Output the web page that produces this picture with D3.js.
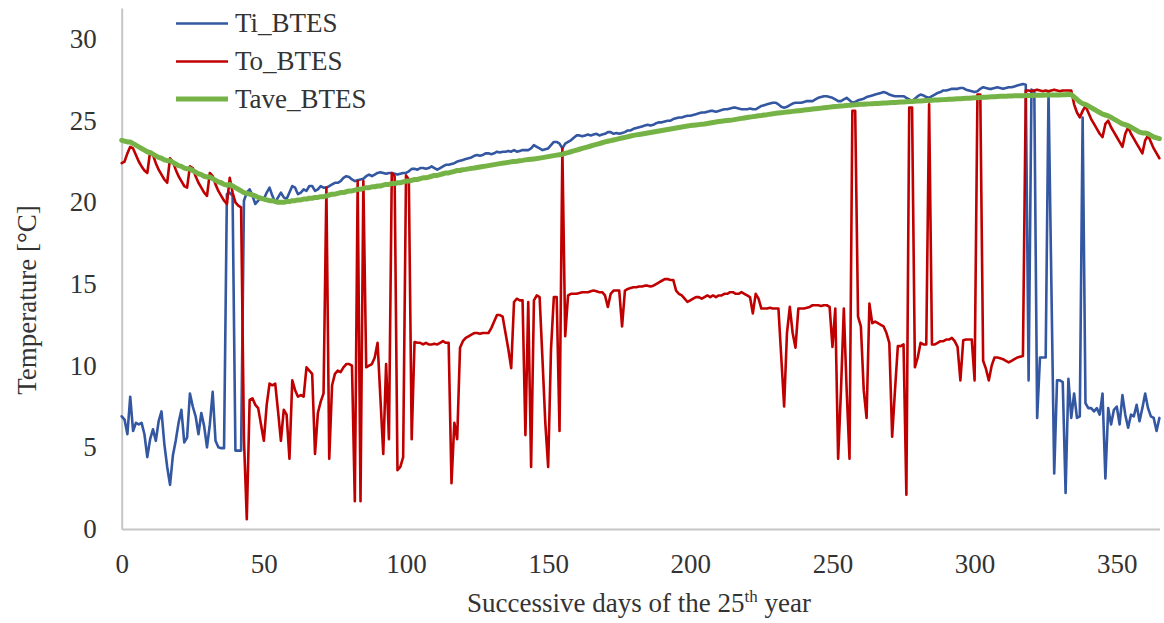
<!DOCTYPE html>
<html>
<head>
<meta charset="utf-8">
<script src="https://cdn.jsdelivr.net/npm/d3@7"></script>
<style>
  html, body { margin: 0; padding: 0; background: #fff; }
</style>
</head>
<body>
<div id="chart"></div>
<script>
// series names, ticks and daily values (day 0..365)
const seriesNames = ["Ti_BTES", "To_BTES", "Tave_BTES"];
const seriesColors = ["#3457a2", "#c00000", "#76b347"];
const xTicks = [0, 50, 100, 150, 200, 250, 300, 350];
const yTicks = [0, 5, 10, 15, 20, 25, 30];

const tiValues = [
  6.9, 6.7, 5.8, 8.1, 6.0, 6.5, 6.4, 6.5, 5.8, 4.4,
  5.5, 6.1, 5.4, 6.6, 7.2, 5.2, 3.8, 2.7, 4.5, 5.4,
  6.5, 7.3, 5.3, 5.6, 8.3, 7.5, 6.9, 5.8, 7.1, 6.3,
  5.0, 6.4, 8.4, 5.4, 5.0, 4.95, 4.95, 20.5, 20.6, 20.4,
  4.8, 4.8, 4.8, 20.1, 20.6, 20.8, 20.4, 19.9, 20.1, 20.3,
  20.2, 20.6, 20.9, 20.4, 20.0, 20.3, 20.6, 20.3, 20.2, 20.6,
  21.0, 20.9, 20.5, 20.6, 20.8, 20.7, 21.0, 21.0, 20.7, 20.8,
  21.0, 20.9, 20.9, 21.0, 21.1, 21.2, 21.2, 21.3, 21.5, 21.6,
  21.55, 21.4, 21.3, 21.35, 21.4, 21.45, 21.6, 21.7, 21.6, 21.7,
  21.8, 21.85, 21.8, 21.75, 21.8, 21.8, 21.75, 21.7, 21.75, 21.8,
  21.8, 21.9, 22.05, 22.05, 22.0, 22.1, 22.1, 22.05, 22.1, 22.2,
  22.1, 22.0, 22.1, 22.2, 22.3, 22.3, 22.35, 22.4, 22.5, 22.55,
  22.6, 22.65, 22.7, 22.75, 22.85, 22.9, 22.85, 22.9, 23.0, 23.0,
  22.95, 23.0, 23.1, 23.05, 23.1, 23.1, 23.15, 23.1, 23.2, 23.1,
  23.15, 23.2, 23.2, 23.2, 23.3, 23.5, 23.4, 23.3, 23.2, 23.25,
  23.3, 23.5, 23.7, 23.7, 23.6, 23.3, 23.6, 23.7, 23.8, 23.95,
  24.1, 24.1, 24.05, 24.1, 24.15, 24.1, 24.15, 24.2, 24.1, 24.15,
  24.2, 24.3, 24.3, 24.2, 24.25, 24.2, 24.25, 24.3, 24.4, 24.4,
  24.5, 24.55, 24.6, 24.65, 24.7, 24.75, 24.7, 24.75, 24.85, 24.9,
  24.9, 24.95, 25.0, 25.0, 25.1, 25.15, 25.2, 25.2, 25.25, 25.3,
  25.3, 25.35, 25.4, 25.45, 25.5, 25.5, 25.55, 25.6, 25.6, 25.55,
  25.6, 25.65, 25.7, 25.7, 25.75, 25.8, 25.8, 25.75, 25.7, 25.7,
  25.7, 25.75, 25.7, 25.7, 25.8, 25.9, 25.95, 26.0, 26.05, 26.1,
  26.1, 26.0, 25.85, 25.8, 25.85, 25.95, 26.05, 26.1, 26.1, 26.1,
  26.15, 26.2, 26.2, 26.2, 26.3, 26.4, 26.45, 26.5, 26.5, 26.45,
  26.4, 26.3, 26.2, 26.2, 26.3, 26.4, 26.25, 26.1, 26.15, 26.25,
  26.3, 26.35, 26.45, 26.5, 26.55, 26.6, 26.65, 26.7, 26.75, 26.7,
  26.6, 26.55, 26.5, 26.5, 26.5, 26.5, 26.4, 26.3, 26.2, 26.35,
  26.5, 26.6, 26.55, 26.45, 26.4, 26.5, 26.6, 26.7, 26.75, 26.85,
  26.85, 26.9, 26.95, 26.95, 26.95, 27.0, 27.0, 26.9, 26.85, 26.8,
  26.75, 26.8, 26.95, 27.05, 27.0, 26.95, 26.95, 27.0, 27.05, 27.0,
  26.95, 27.0, 27.05, 27.05, 27.1, 27.15, 27.2, 27.25, 27.2, 9.1,
  26.9, 26.8, 6.8, 10.5, 10.5, 10.5, 26.8, 15.0, 3.4, 9.1,
  9.1, 9.0, 2.2, 9.2, 6.8, 8.3, 6.8, 6.9, 25.2, 7.7,
  7.4, 7.4, 7.2, 7.4, 7.0, 8.3, 3.1, 7.4, 6.4, 7.3,
  7.5, 6.4, 8.2, 7.0, 6.2, 7.0, 6.9, 7.6, 6.6, 7.4,
  8.3, 7.4, 6.9, 6.8, 6.0, 6.8
];

const toValues = [
  22.4, 22.5, 23.0, 23.4, 23.3, 22.9, 22.5, 22.2, 21.95, 21.8,
  23.1, 22.9, 22.4, 22.0, 21.7, 21.4, 21.2, 22.7, 22.5, 22.0,
  21.6, 21.3, 21.0, 20.9, 22.2, 22.1, 21.6, 21.2, 20.9, 20.6,
  20.4, 21.8, 21.6, 21.1, 20.7, 20.4, 20.1, 19.9, 21.5, 20.6,
  20.0, 19.8, 19.7, 5.5, 0.6, 7.9, 8.0, 7.6, 7.4, 6.4,
  5.4, 7.6, 8.9, 8.8, 8.9, 7.2, 5.4, 7.3, 7.0, 4.3,
  9.1, 8.5, 8.1, 8.2, 8.1, 9.9, 9.7, 9.5, 4.6, 7.1,
  7.8, 8.3, 20.9, 4.3, 8.8, 9.5, 9.7, 9.6, 9.9, 10.1,
  10.1, 10.0, 1.7, 21.3, 1.7, 21.3, 9.9, 10.0, 10.1, 10.5,
  11.4, 8.0, 4.6, 10.1, 5.5, 21.8, 21.6, 3.6, 3.8, 4.4,
  21.65, 21.4, 5.5, 11.45, 11.4, 11.4, 11.3, 11.4, 11.3, 11.3,
  11.35, 11.3, 11.4, 11.5, 11.4, 11.4, 2.8, 6.5, 5.5, 11.1,
  11.5, 11.7, 11.8, 11.9, 12.0, 12.0, 11.95, 12.0, 12.0, 12.0,
  12.3, 12.7, 13.1, 13.1, 13.0, 12.0, 11.0, 9.85, 13.9, 14.1,
  14.0, 14.0, 5.75, 13.9, 3.8, 14.0, 14.3, 14.2, 10.4, 6.5,
  3.8, 11.0, 14.2, 14.2, 6.0, 23.3, 11.8, 14.3, 14.4, 14.4,
  14.4, 14.45, 14.5, 14.5, 14.5, 14.55, 14.6, 14.55, 14.5, 14.5,
  14.3, 13.6, 14.4, 14.6, 14.6, 14.6, 12.4, 14.6, 14.7, 14.75,
  14.8, 14.8, 14.85, 14.85, 14.9, 14.9, 14.85, 14.9, 15.0, 15.1,
  15.2, 15.3, 15.3, 15.25, 15.25, 14.6, 14.4, 14.3, 14.1, 13.9,
  14.0, 14.1, 14.2, 14.2, 14.1, 14.2, 14.3, 14.2, 14.3, 14.2,
  14.3, 14.3, 14.4, 14.4, 14.5, 14.5, 14.4, 14.4, 14.5, 14.4,
  14.3, 14.2, 13.2, 14.4, 14.1, 13.5, 13.5, 13.5, 13.55, 13.5,
  13.5, 13.5, 10.5, 7.5, 12.0, 13.6, 12.0, 11.1, 13.5, 13.5,
  13.5, 13.55, 13.6, 13.7, 13.7, 13.7, 13.65, 13.7, 13.7, 13.6,
  11.15, 13.5, 4.3, 8.5, 13.5, 8.5, 4.3, 25.6, 25.6, 13.0,
  12.4, 8.5, 6.8, 13.8, 12.6, 12.7, 12.6, 12.5, 12.4, 12.0,
  11.4, 5.65, 8.5, 11.2, 11.2, 11.3, 2.1, 25.8, 25.8, 9.9,
  10.5, 11.4, 11.3, 11.3, 26.0, 11.3, 11.3, 11.4, 11.5, 11.5,
  11.6, 11.6, 11.7, 11.5, 11.15, 9.1, 11.55, 11.6, 11.6, 11.6,
  9.1, 26.6, 26.6, 10.3, 9.8, 9.1, 10.0, 10.5, 10.5, 10.45,
  10.4, 10.3, 10.2, 10.3, 10.4, 10.5, 10.55, 10.6, 26.85, 26.85,
  26.8, 26.85, 26.9, 26.85, 26.8, 26.85, 26.8, 26.85, 26.9, 26.85,
  26.8, 26.85, 26.85, 26.85, 26.85, 26.0, 25.5, 25.2, 25.6, 25.9,
  25.5, 25.1, 24.8, 24.5, 24.2, 24.0, 24.8, 25.0, 24.6, 24.3,
  24.0, 23.7, 23.4, 24.2, 24.6, 24.2, 23.9, 23.6, 23.3, 23.0,
  23.8, 24.1, 23.7, 23.3, 23.0, 22.7
];

const taveValues = [
  23.8, 23.75, 23.7, 23.7, 23.6, 23.5, 23.4, 23.3, 23.2, 23.1,
  23.05, 22.95, 22.85, 22.75, 22.7, 22.6, 22.55, 22.55, 22.45, 22.35,
  22.25, 22.2, 22.1, 22.05, 22.05, 21.95, 21.85, 21.75, 21.7, 21.6,
  21.55, 21.55, 21.45, 21.35, 21.25, 21.2, 21.1, 21.05, 21.1, 21.0,
  20.9, 20.8, 20.7, 20.6, 20.55, 20.5, 20.45, 20.4, 20.3, 20.25,
  20.2, 20.15, 20.1, 20.1, 20.05, 20.0, 20.0, 20.0, 20.05, 20.05,
  20.1, 20.1, 20.15, 20.15, 20.2, 20.2, 20.25, 20.25, 20.3, 20.3,
  20.35, 20.35, 20.4, 20.45, 20.5, 20.5, 20.55, 20.6, 20.6, 20.65,
  20.7, 20.7, 20.75, 20.8, 20.8, 20.85, 20.9, 20.9, 20.95, 20.95,
  21.0, 21.0, 21.05, 21.1, 21.1, 21.15, 21.15, 21.2, 21.2, 21.25,
  21.3, 21.3, 21.35, 21.4, 21.4, 21.45, 21.5, 21.5, 21.55, 21.6,
  21.65, 21.65, 21.7, 21.75, 21.8, 21.8, 21.85, 21.9, 21.95, 21.95,
  22.0, 22.02, 22.05, 22.08, 22.1, 22.13, 22.16, 22.19, 22.22, 22.25,
  22.28, 22.31, 22.34, 22.37, 22.4, 22.42, 22.45, 22.48, 22.5, 22.52,
  22.55, 22.57, 22.6, 22.62, 22.64, 22.66, 22.68, 22.71, 22.74, 22.77,
  22.8, 22.83, 22.86, 22.89, 22.92, 22.95, 23.0, 23.05, 23.1, 23.15,
  23.2, 23.25, 23.3, 23.35, 23.4, 23.45, 23.5, 23.55, 23.6, 23.65,
  23.7, 23.74, 23.78, 23.82, 23.86, 23.9, 23.94, 23.98, 24.02, 24.06,
  24.1, 24.13, 24.16, 24.19, 24.22, 24.25, 24.28, 24.31, 24.34, 24.37,
  24.4, 24.43, 24.46, 24.49, 24.52, 24.55, 24.58, 24.61, 24.64, 24.67,
  24.7, 24.72, 24.74, 24.76, 24.78, 24.8, 24.83, 24.86, 24.89, 24.92,
  24.95, 24.97, 24.99, 25.01, 25.03, 25.05, 25.08, 25.11, 25.14, 25.17,
  25.2, 25.22, 25.25, 25.27, 25.3, 25.32, 25.35, 25.37, 25.4, 25.42,
  25.45, 25.47, 25.49, 25.51, 25.53, 25.55, 25.57, 25.59, 25.61, 25.63,
  25.65, 25.67, 25.69, 25.71, 25.73, 25.75, 25.77, 25.79, 25.81, 25.83,
  25.85, 25.87, 25.88, 25.9, 25.91, 25.93, 25.94, 25.96, 25.97, 25.99,
  26.0, 26.01, 26.02, 26.03, 26.04, 26.05, 26.06, 26.07, 26.08, 26.09,
  26.1, 26.11, 26.12, 26.13, 26.14, 26.15, 26.16, 26.17, 26.18, 26.19,
  26.2, 26.21, 26.22, 26.23, 26.24, 26.25, 26.26, 26.27, 26.28, 26.29,
  26.3, 26.31, 26.32, 26.33, 26.34, 26.35, 26.36, 26.37, 26.38, 26.39,
  26.4, 26.41, 26.42, 26.43, 26.44, 26.45, 26.46, 26.47, 26.48, 26.49,
  26.5, 26.5, 26.51, 26.51, 26.52, 26.52, 26.53, 26.53, 26.54, 26.54,
  26.55, 26.55, 26.56, 26.56, 26.56, 26.57, 26.57, 26.57, 26.58, 26.58,
  26.58, 26.59, 26.59, 26.6, 26.6, 26.45, 26.3, 26.15, 26.05, 26.0,
  25.9, 25.8, 25.7, 25.6, 25.5, 25.4, 25.35, 25.3, 25.2, 25.1,
  25.0, 24.9, 24.8, 24.75, 24.7, 24.6, 24.5, 24.4, 24.3, 24.25,
  24.25, 24.2, 24.1, 24.0, 23.95, 23.9
];

const dayCount = 366;
[tiValues, toValues, taveValues].forEach((arr, i) => {
  if (arr.length !== dayCount) throw new Error(seriesNames[i] + " has " + arr.length + " values");
});
const days = d3.range(dayCount);

// chart size and font
const width = 1164;
const height = 623;
const serif = "Liberation Serif, Times New Roman, serif";
const textColor = "#333";

const svg = d3.select("#chart").append("svg")
    .attr("width", width)
    .attr("height", height)
    .attr("viewBox", [0, 0, width, height])
    .attr("font-family", serif);

const x = d3.scaleLinear()
    .domain([0, 365])
    .range([121.7, 1159.4]);

const y = d3.scaleLinear()
    .domain([0, 31.9])
    .range([529, 8]);

// axes (Excel style: light grey line, no tick marks)
svg.append("g")
    .attr("transform", `translate(0,${y(0)})`)
    .call(d3.axisBottom(x).tickValues(xTicks).tickSize(0).tickPadding(25))
    .attr("font-family", serif)
    .attr("font-size", 27)
    .call(g => g.select(".domain").attr("stroke", "#c6c6c6").attr("stroke-width", 2))
    .call(g => g.selectAll("text").attr("fill", textColor));

svg.append("g")
    .attr("transform", `translate(${x(0)},0)`)
    .call(d3.axisLeft(y).tickValues(yTicks).tickSize(0).tickPadding(25))
    .attr("font-family", serif)
    .attr("font-size", 27)
    .call(g => g.select(".domain").attr("stroke", "#c6c6c6").attr("stroke-width", 2))
    .call(g => g.selectAll("text").attr("fill", textColor));

// lines
const series = [tiValues, toValues, taveValues];
const widths = [2.6, 2.6, 5];

const line = d3.line()
    .x((d, i) => x(days[i]))
    .y(d => y(d));

svg.append("g")
    .selectAll("path")
    .data(series)
    .join("path")
    .attr("fill", "none")
    .attr("stroke", (d, i) => seriesColors[i])
    .attr("stroke-width", (d, i) => widths[i])
    .attr("stroke-linejoin", "round")
    .attr("stroke-linecap", "round")
    .attr("d", line);

// legend
const legend = svg.append("g")
    .selectAll("g")
    .data(seriesNames)
    .join("g")
    .attr("transform", (d, i) => `translate(176,${[23.5, 61.5, 99][i]})`);

legend.append("line")
    .attr("x1", 0)
    .attr("x2", 52)
    .attr("stroke", (d, i) => seriesColors[i])
    .attr("stroke-width", (d, i) => widths[i]);

legend.append("text")
    .attr("x", 59)
    .attr("y", 8.7)
    .attr("font-size", 27)
    .attr("font-family", serif)
    .attr("fill", textColor)
    .text(d => d);

// axis titles
const xTitle = svg.append("text")
    .attr("x", 639)
    .attr("y", 612)
    .attr("text-anchor", "middle")
    .attr("font-size", 27)
    .attr("font-family", serif)
    .attr("fill", textColor);
xTitle.append("tspan").text("Successive days of the 25");
xTitle.append("tspan").attr("font-size", 17).attr("dy", -10).text("th");
xTitle.append("tspan").attr("dy", 10).text(" year");

svg.append("text")
    .attr("transform", "translate(36,300) rotate(-90)")
    .attr("text-anchor", "middle")
    .attr("font-size", 27)
    .attr("font-family", serif)
    .attr("fill", textColor)
    .text("Temperature [°C]");
</script>
</body>
</html>
